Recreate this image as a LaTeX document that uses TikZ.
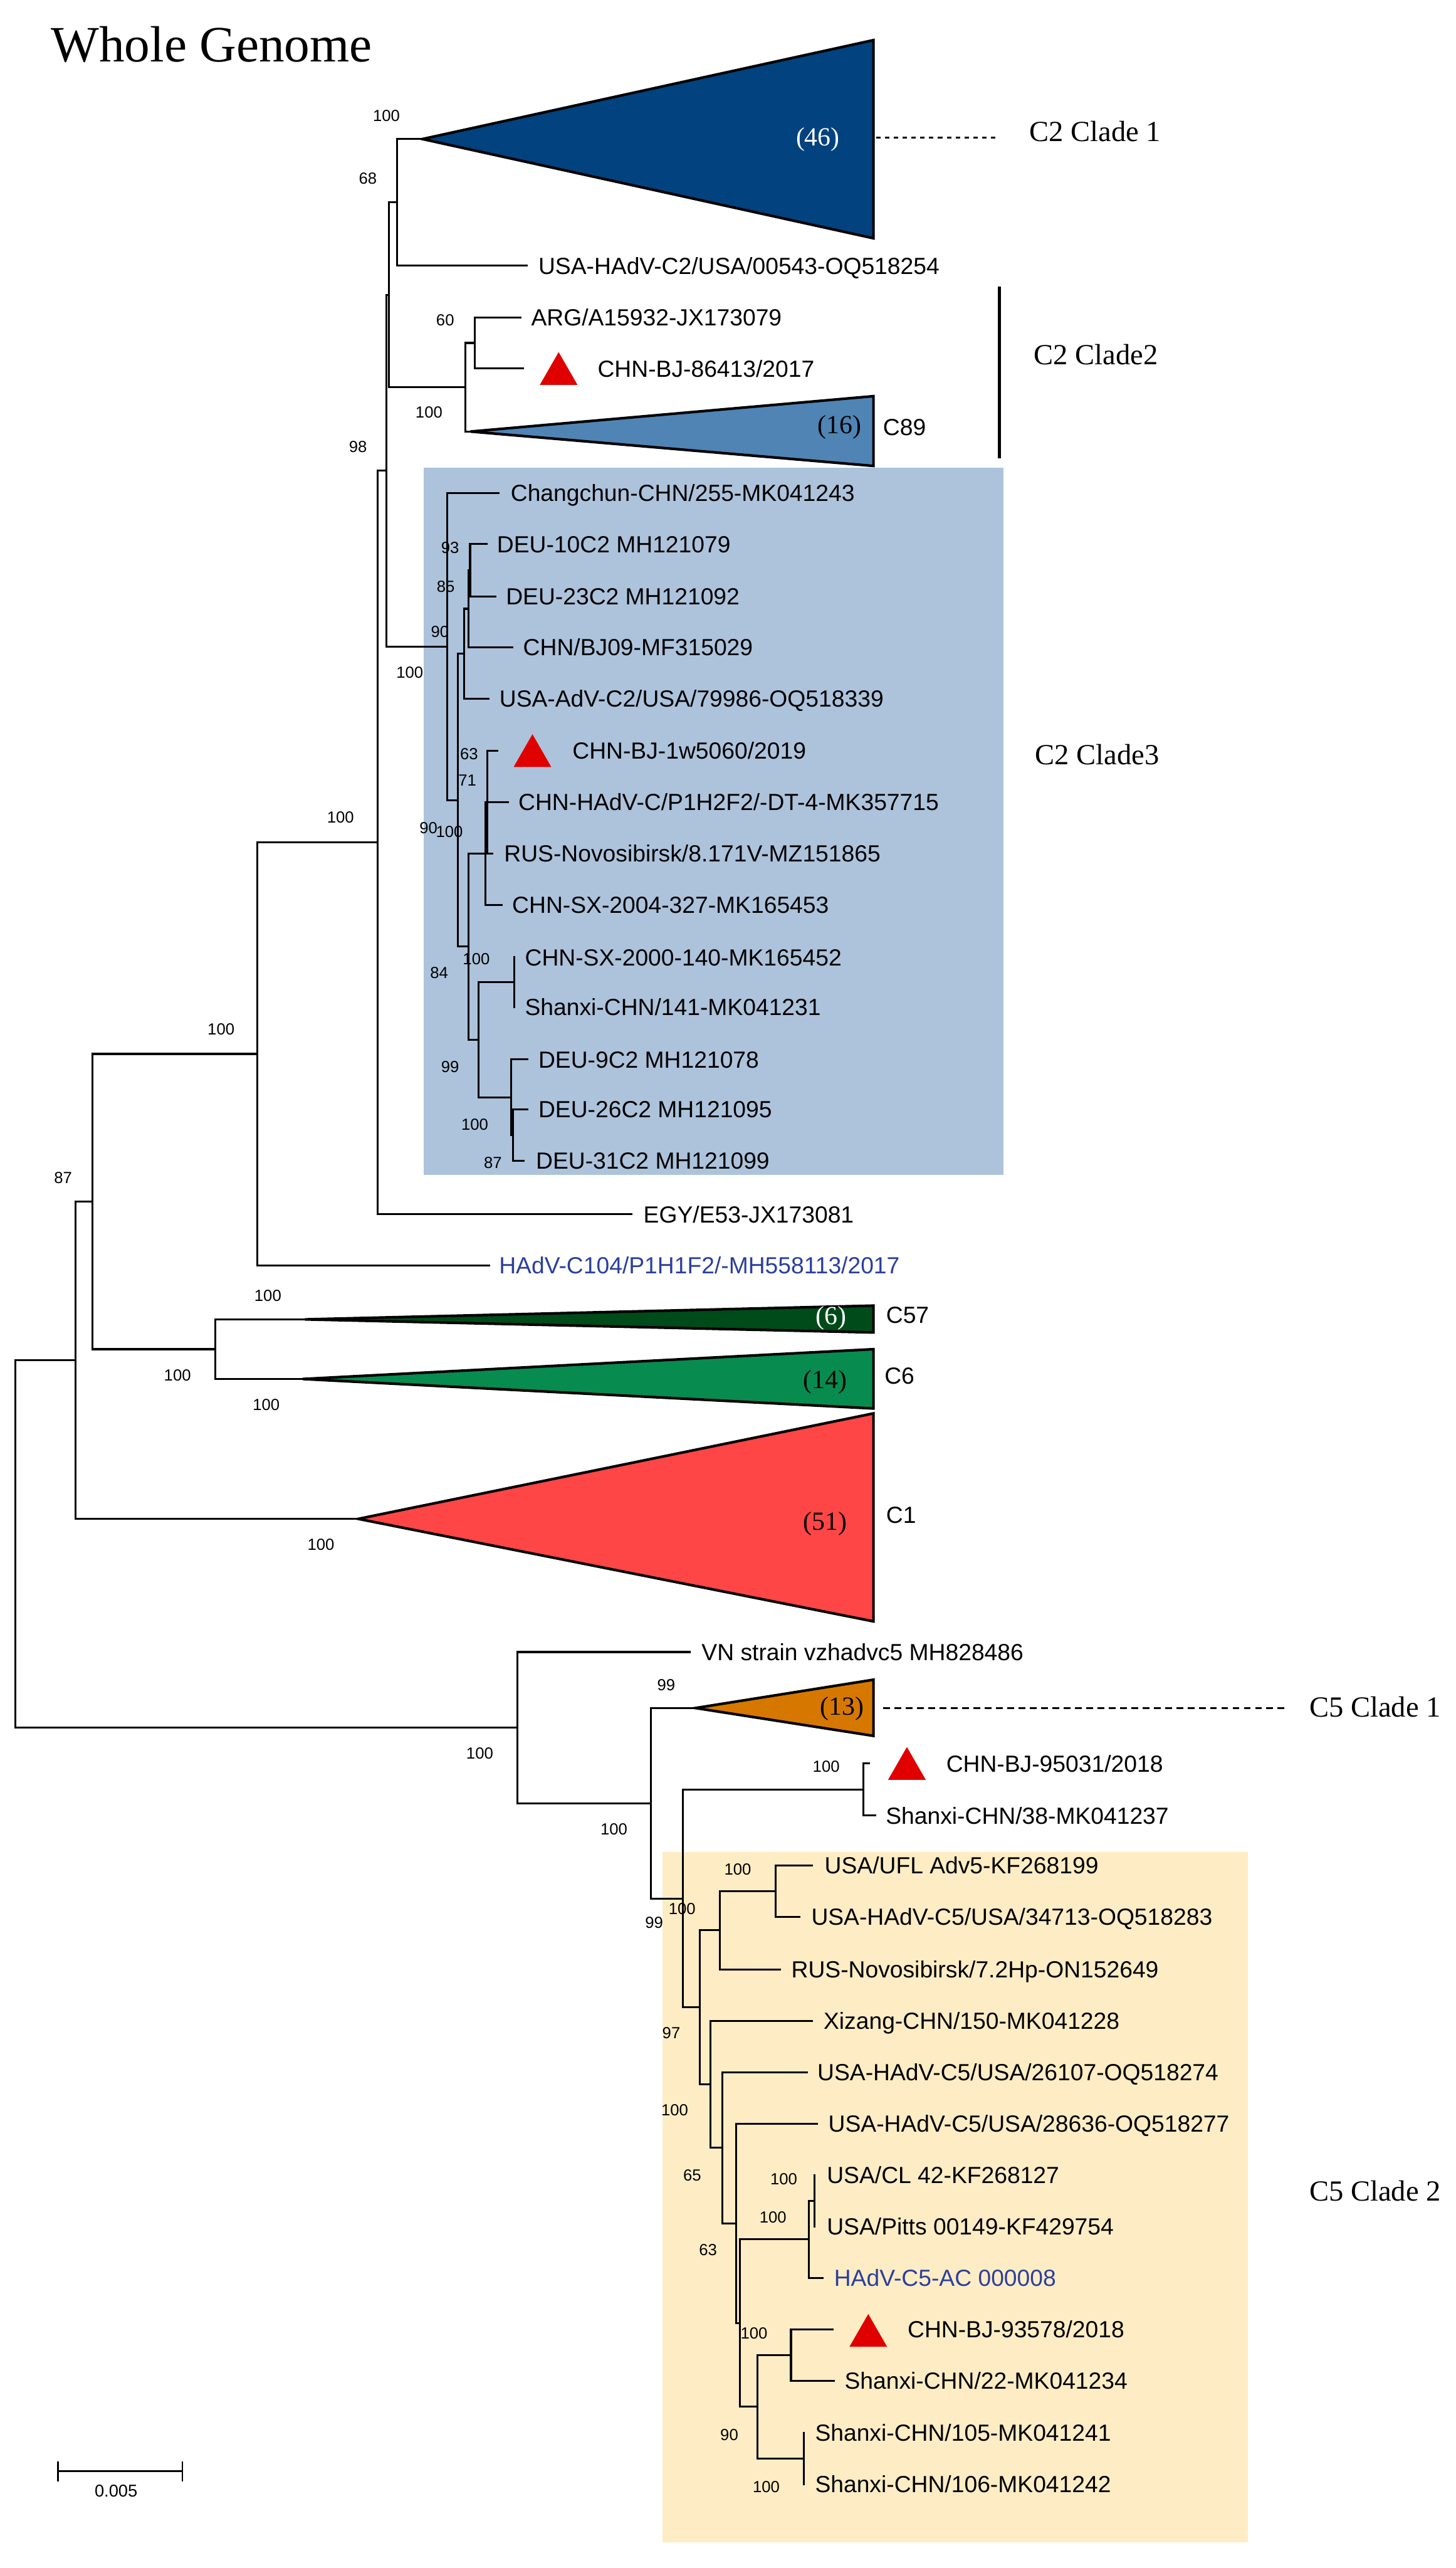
\documentclass[tikz,border=0pt]{standalone}
\usepackage{fontspec}
\setmainfont{Liberation Serif}
\setsansfont{Liberation Sans}
\definecolor{cladeonefill}{HTML}{02427E}
\definecolor{ceightnine}{HTML}{4F84B5}
\definecolor{boxblue}{HTML}{ADC3DC}
\definecolor{cfiftyseven}{HTML}{004B1A}
\definecolor{csix}{HTML}{078B4F}
\definecolor{cone}{HTML}{FF4646}
\definecolor{cfiveorange}{HTML}{D67800}
\definecolor{boxyellow}{HTML}{FEEDC4}
\definecolor{mkred}{HTML}{E00000}
\definecolor{labblue}{HTML}{2B3F9E}
\newcommand\leaffont{\sffamily\fontsize{11.6}{13}\selectfont}
\newcommand\bootfont{\sffamily\fontsize{8}{9}\selectfont}
\newcommand\cladefont{\rmfamily\fontsize{14.5}{16}\selectfont}
\newcommand\countfont{\rmfamily\fontsize{13}{15}\selectfont}
\newcommand\titlefont{\rmfamily\fontsize{25.3}{28}\selectfont}
\newcommand\mkr[2]{\fill[mkred] ({#1-11.5},{#2+10}) -- ({#1+11.5},{#2+10}) -- ({#1},{#2-10}) -- cycle;}
\begin{document}
\begin{tikzpicture}[x=0.2859mm, y=-0.2859mm,
  br/.style={line width=0.95pt, line cap=rect, line join=miter},
  tri/.style={draw=black, line width=1.3pt, line join=miter},
  lab/.style={anchor=west, inner sep=0pt, font=\leaffont, text height=8.3pt, text depth=0pt},
  bsv/.style={inner sep=0pt, font=\bootfont, text height=5.7pt, text depth=0pt},
  cnt/.style={inner sep=0pt, font=\countfont},
  cld/.style={anchor=west, inner sep=0pt, font=\cladefont, text height=9.6pt, text depth=0pt}]
\useasboundingbox (0,0) rectangle (889,1568);
\fill[white] (0,0) rectangle (889,1568);

% background boxes
\fill[boxblue] (258.6,285.4) rectangle (612.8,717.3);
\fill[boxyellow] (404.6,1130.7) rectangle (762.3,1552.4);

% internal nodes
\coordinate (rt) at (9.2,942.7);
\coordinate (nA87) at (46,830.5);
\coordinate (nB100) at (56.4,733.65);
\coordinate (nC100) at (157.2,643.5);
\coordinate (nCC) at (131.5,823.8);
\coordinate (nC) at (230.8,514.4);
\coordinate (nB) at (235.9,287.4);
\coordinate (nA) at (237.6,180);
\coordinate (n68) at (242.4,123.55);
\coordinate (nCl2) at (284.4,236.45);
\coordinate (n60) at (289.9,209.4);
\coordinate (nD) at (273.2,394.75);
\coordinate (nE) at (279.6,488.6);
\coordinate (n90) at (283.3,399.2);
\coordinate (n85) at (286.2,371.7);
\coordinate (n93) at (287.1,348.15);
\coordinate (nF) at (286,578);
\coordinate (nG) at (296.4,521.2);
\coordinate (nX) at (297.6,489.75);
\coordinate (nH) at (292.3,634.85);
\coordinate (nI) at (314.1,599.75);
\coordinate (nJ) at (312,669.95);
\coordinate (n87b) at (313.5,693);
\coordinate (nK) at (316.1,1054.9);
\coordinate (nL) at (397.6,1101.05);
\coordinate (nM) at (417,1159.2);
\coordinate (nN) at (527.2,1092.7);
\coordinate (nP) at (427.3,1225.7);
\coordinate (nQ) at (439.6,1178.65);
\coordinate (nR) at (473.8,1154.8);
\coordinate (nS) at (433.8,1272.7);
\coordinate (nT) at (441.1,1311.45);
\coordinate (nU) at (449.7,1357.6);
\coordinate (nV) at (451.8,1418.45);
\coordinate (nW) at (494.1,1367.35);
\coordinate (nXX) at (497.6,1343.8);
\coordinate (nY) at (462.8,1469.55);
\coordinate (nZ) at (483.1,1438);
\coordinate (nAA) at (490.9,1501.1);

% collapsed clade apexes
\coordinate (aCl1) at (258,84.9);
\coordinate (aC89) at (287.4,263.5);
\coordinate (aC57) at (186.3,805.6);
\coordinate (aC6) at (184.8,842);
\coordinate (aC1) at (218.8,927.4);
\coordinate (aC5a) at (424.8,1042.9);

% tips
\coordinate (t00543) at (321.9,162.2);
\coordinate (tARG) at (318,193.8);
\coordinate (t86413) at (319.3,225);
\coordinate (tChang) at (304.5,300.9);
\coordinate (tDEU10) at (297.3,332.2);
\coordinate (tDEU23) at (302.5,364.1);
\coordinate (tBJ09) at (313,395.2);
\coordinate (tUSAAdV) at (298.2,426.7);
\coordinate (t1w) at (303.7,458.4);
\coordinate (tHAdVC) at (310.3,489.8);
\coordinate (tRUS) at (300.8,521.1);
\coordinate (tSX2004) at (306.4,552.6);
\coordinate (tSX2000) at (314.1,584.5);
\coordinate (tSh141) at (314.1,615);
\coordinate (tDEU9) at (322.2,646.9);
\coordinate (tDEU26) at (322.2,677.3);
\coordinate (tDEU31) at (319.9,708.7);
\coordinate (tEGY) at (385.8,741.4);
\coordinate (tC104) at (298.8,772.6);
\coordinate (tVN) at (421.4,1008.7);
\coordinate (t95031) at (530.7,1076.8);
\coordinate (tSh38) at (534.4,1108.6);
\coordinate (tUFL) at (496.1,1139.1);
\coordinate (t34713) at (488.3,1170.5);
\coordinate (t72Hp) at (476.4,1202.5);
\coordinate (tXiz) at (496.1,1233.9);
\coordinate (t26107) at (492.7,1265.3);
\coordinate (t28636) at (499,1296.7);
\coordinate (tCL42) at (497.6,1328.1);
\coordinate (tPitts) at (497.6,1359.5);
\coordinate (tAC) at (502.5,1390.9);
\coordinate (t93578) at (508.6,1422.3);
\coordinate (tSh22) at (509.2,1453.7);
\coordinate (t105) at (490.9,1485.4);
\coordinate (t106) at (490.9,1516.8);

% branches
\foreach \p/\c in {rt/nA87, rt/nK, nA87/nB100, nA87/aC1, nB100/nC100, nB100/nCC,
  nC100/nC, nC100/tC104, nCC/aC57, nCC/aC6, nC/nB, nC/tEGY, nB/nA, nB/nD,
  nA/n68, nA/nCl2, n68/aCl1, n68/t00543, nCl2/n60, nCl2/aC89, n60/tARG, n60/t86413,
  nD/tChang, nD/nE, nE/n90, nE/nF, n90/n85, n90/tUSAAdV, n85/n93, n85/tBJ09,
  n93/tDEU10, n93/tDEU23, nF/nG, nF/nH, nG/nX, nG/tSX2004, nX/t1w, nX/tHAdVC, nX/tRUS,
  nH/nI, nH/nJ, nI/tSX2000, nI/tSh141, nJ/tDEU9, nJ/n87b, n87b/tDEU26, n87b/tDEU31,
  nK/tVN, nK/nL, nL/aC5a, nL/nM, nM/nN, nM/nP, nN/t95031, nN/tSh38, nP/nQ, nP/nS,
  nQ/nR, nQ/t72Hp, nR/tUFL, nR/t34713, nS/tXiz, nS/nT, nT/t26107, nT/nU, nU/t28636,
  nU/nV, nV/nW, nV/nY, nW/nXX, nW/tAC, nXX/tCL42, nXX/tPitts, nY/nZ, nY/nAA,
  nZ/t93578, nZ/tSh22, nAA/t105, nAA/t106}
  \draw[br] (\p) |- (\c);

% collapsed clades
\filldraw[tri, fill=cladeonefill] (aCl1) -- (533.5,24.5) -- (533.5,145.5) -- cycle;
\filldraw[tri, fill=ceightnine] (aC89) -- (533.5,241.9) -- (533.5,284.5) -- cycle;
\filldraw[tri, fill=cfiftyseven] (aC57) -- (533.5,797.2) -- (533.5,813.6) -- cycle;
\filldraw[tri, fill=csix] (aC6) -- (533.5,823.8) -- (533.5,860) -- cycle;
\filldraw[tri, fill=cone] (aC1) -- (533.5,863) -- (533.5,990) -- cycle;
\filldraw[tri, fill=cfiveorange] (aC5a) -- (533.5,1025.6) -- (533.5,1059.9) -- cycle;

\node[cnt, text=white] (k46) at (499.5,85.3) {(46)};
\node[cnt] (k16) at (512.8,261) {(16)};
\node[cnt, text=white] (k6) at (507.5,804.7) {(6)};
\node[cnt] (k14) at (503.9,844) {(14)};
\node[cnt] (k51) at (503.9,930.5) {(51)};
\node[cnt] (k13) at (514.2,1043.5) {(13)};

% red markers
\mkr{341.2}{225}
\mkr{325.2}{458.3}
\mkr{553.9}{1076.7}
\mkr{530.3}{1422.9}

% leaf labels
\node[lab] (l00543) at (328.6,162.2) {USA-HAdV-C2/USA/00543-OQ518254};
\node[lab] (lARG) at (324.2,193.8) {ARG/A15932-JX173079};
\node[lab] (l86413) at (364.8,225) {CHN-BJ-86413/2017};
\node[lab] (lC89) at (539.1,260.6) {C89};
\node[lab] (lChang) at (311.7,300.9) {Changchun-CHN/255-MK041243};
\node[lab] (lDEU10) at (303.3,332.2) {DEU-10C2 MH121079};
\node[lab] (lDEU23) at (308.8,364.1) {DEU-23C2 MH121092};
\node[lab] (lBJ09) at (319.3,395.2) {CHN/BJ09-MF315029};
\node[lab] (lUSAAdV) at (304.8,426.7) {USA-AdV-C2/USA/79986-OQ518339};
\node[lab] (l1w) at (349.4,458.4) {CHN-BJ-1w5060/2019};
\node[lab] (lHAdVC) at (316.4,489.8) {CHN-HAdV-C/P1H2F2/-DT-4-MK357715};
\node[lab] (lRUS) at (307.7,521.1) {RUS-Novosibirsk/8.171V-MZ151865};
\node[lab] (lSX2004) at (312.6,552.6) {CHN-SX-2004-327-MK165453};
\node[lab] (lSX2000) at (320.4,584.5) {CHN-SX-2000-140-MK165452};
\node[lab] (lSh141) at (320.4,615) {Shanxi-CHN/141-MK041231};
\node[lab] (lDEU9) at (328.6,646.9) {DEU-9C2 MH121078};
\node[lab] (lDEU26) at (328.6,677.3) {DEU-26C2 MH121095};
\node[lab] (lDEU31) at (327.1,708.7) {DEU-31C2 MH121099};
\node[lab] (lEGY) at (392.8,741.4) {EGY/E53-JX173081};
\node[lab, text=labblue] (lC104) at (304.6,772.6) {HAdV-C104/P1H1F2/-MH558113/2017};
\node[lab] (lC57) at (541,803) {C57};
\node[lab] (lC6) at (540,840) {C6};
\node[lab] (lC1) at (541,925) {C1};
\node[lab] (lVN) at (428.3,1008.7) {VN strain vzhadvc5 MH828486};
\node[lab] (l95031) at (577.7,1076.8) {CHN-BJ-95031/2018};
\node[lab] (lSh38) at (540.8,1108.6) {Shanxi-CHN/38-MK041237};
\node[lab] (lUFL) at (503.4,1139.1) {USA/UFL Adv5-KF268199};
\node[lab] (l34713) at (495.3,1170.5) {USA-HAdV-C5/USA/34713-OQ518283};
\node[lab] (l72Hp) at (483.1,1202.5) {RUS-Novosibirsk/7.2Hp-ON152649};
\node[lab] (lXiz) at (502.8,1233.9) {Xizang-CHN/150-MK041228};
\node[lab] (l26107) at (499,1265.3) {USA-HAdV-C5/USA/26107-OQ518274};
\node[lab] (l28636) at (505.7,1296.7) {USA-HAdV-C5/USA/28636-OQ518277};
\node[lab] (lCL42) at (504.8,1328.1) {USA/CL 42-KF268127};
\node[lab] (lPitts) at (504.8,1359.5) {USA/Pitts 00149-KF429754};
\node[lab, text=labblue] (lAC) at (509.2,1390.9) {HAdV-C5-AC 000008};
\node[lab] (l93578) at (554.1,1422.3) {CHN-BJ-93578/2018};
\node[lab] (lSh22) at (515.6,1453.7) {Shanxi-CHN/22-MK041234};
\node[lab] (l105) at (497.6,1485.4) {Shanxi-CHN/105-MK041241};
\node[lab] (l106) at (497.6,1516.8) {Shanxi-CHN/106-MK041242};

% bootstrap values
\foreach \x/\y/\t [count=\i] in {236/70.7/100, 224.7/109/68, 271.9/195.3/60, 262/251.6/100,
  218.6/272.8/98, 274.9/334.5/93, 272.2/358/85, 268.7/385.5/90, 250.3/410.5/100,
  286.5/460.3/63, 285.4/476.2/71, 261.7/505.4/90, 274.5/507.7/100, 290.9/585.4/100,
  268.2/593.8/84, 274.9/651.2/99, 290/686.6/100, 301/710/87, 208/499/100,
  135/628.5/100, 38.5/719/87, 163.6/791/100, 108.4/839.7/100, 162.6/857.7/100,
  196/943/100, 293/1070.6/100, 406.9/1028.7/99, 375/1116.6/100, 504.6/1078.6/100,
  399.5/1174/99, 416.6/1165.3/100, 450.6/1141.4/100, 410/1241.3/97, 412.1/1288.4/100,
  422.8/1328.1/65, 432.4/1373.8/63, 478.7/1330.4/100, 472.1/1353.8/100,
  460.5/1424.6/100, 445.4/1486.5/90, 468/1518.2/100}
  \node[bsv] (bs\i) at (\x,\y) {\t};

% clade annotations
\coordinate (dC2a) at (535,83.9);
\coordinate (dC2b) at (608.4,83.9);
\draw[line width=0.9pt, dash pattern=on 2.2 off 2.2] (dC2a) -- (dC2b);
\node[cld] (cC2a) at (628.6,80.3) {C2 Clade 1};
\coordinate (barT) at (610.3,175);
\coordinate (barB) at (610.3,280);
\draw[line width=1.4pt] (barT) -- (barB);
\node[cld] (cC2b) at (631.3,216.8) {C2 Clade2};
\node[cld] (cC2c) at (632,461) {C2 Clade3};
\coordinate (dC5a) at (539.4,1043);
\coordinate (dC5b) at (784.3,1043);
\draw[line width=0.9pt, dash pattern=on 3.4 off 2.2] (dC5a) -- (dC5b);
\node[cld] (cC5a) at (799.5,1042.5) {C5 Clade 1};
\node[cld] (cC5b) at (799.5,1338) {C5 Clade 2};

% title
\node[anchor=base west, inner sep=0pt, font=\titlefont] (title) at (31,37.8) {Whole Genome};

% scale bar
\coordinate (sbL) at (35.5,1508.7);
\coordinate (sbR) at (111.4,1508.7);
\draw[line width=0.85pt] (sbL) -- (sbR);
\draw[line width=0.85pt] (35.5,1503) -- (35.5,1515);
\draw[line width=0.85pt] (111.4,1503) -- (111.4,1515);
\node[inner sep=0pt, font=\sffamily\fontsize{8.5}{10}\selectfont] (sbt) at (70.9,1521) {0.005};
\end{tikzpicture}
\end{document}
